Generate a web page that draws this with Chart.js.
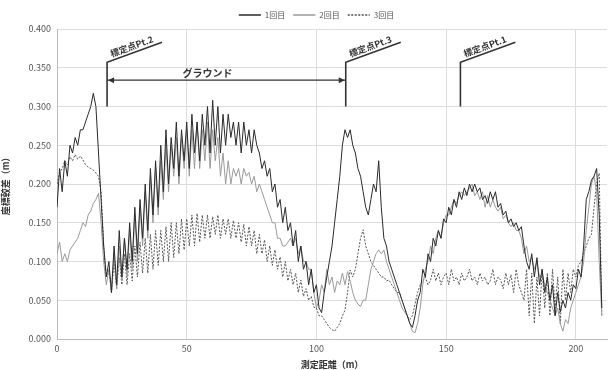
<!DOCTYPE html>
<html>
<head>
<meta charset="utf-8">
<script src="https://cdn.jsdelivr.net/npm/chart.js@4"></script>
<style>
  body { margin: 0; background: #fff; }
  #wrap { width: 609px; height: 370px; }
</style>
</head>
<body>
<div id="wrap"><canvas id="chart"></canvas></div>
<script>
// distances (m), one per metre
const distances = [];
for (let i = 0; i <= 210; i++) distances.push(i);

const run1 = [
  0.17, 0.22, 0.19, 0.23, 0.21, 0.25, 0.24, 0.26, 0.25, 0.27,
  0.27, 0.28, 0.29, 0.30, 0.317, 0.30, 0.24, 0.18, 0.12, 0.08,
  0.10, 0.06, 0.12, 0.07, 0.14, 0.08, 0.13, 0.09, 0.15, 0.10,
  0.17, 0.11, 0.18, 0.13, 0.20, 0.14, 0.22, 0.16, 0.23, 0.17,
  0.25, 0.19, 0.27, 0.20, 0.26, 0.22, 0.28, 0.21, 0.27, 0.23,
  0.28, 0.22, 0.29, 0.24, 0.28, 0.23, 0.29, 0.25, 0.30, 0.24,
  0.308, 0.25, 0.30, 0.24, 0.29, 0.25, 0.29, 0.26, 0.28, 0.25,
  0.28, 0.24, 0.28, 0.25, 0.27, 0.24, 0.27, 0.25, 0.24, 0.22,
  0.23, 0.21, 0.22, 0.19, 0.20, 0.17, 0.18, 0.15, 0.17, 0.14,
  0.15, 0.12, 0.14, 0.10, 0.12, 0.09, 0.10, 0.07, 0.09, 0.06,
  0.07, 0.04, 0.034, 0.06, 0.08, 0.10, 0.12, 0.15, 0.18, 0.21,
  0.25, 0.27, 0.26, 0.27, 0.25, 0.24, 0.22, 0.21, 0.19, 0.17,
  0.16, 0.18, 0.20, 0.19, 0.23, 0.17, 0.13, 0.12, 0.10, 0.09,
  0.08, 0.07, 0.06, 0.05, 0.04, 0.03, 0.02, 0.015, 0.03, 0.05,
  0.06, 0.09, 0.08, 0.11, 0.10, 0.13, 0.12, 0.14, 0.13, 0.155,
  0.15, 0.17, 0.16, 0.18, 0.17, 0.19, 0.18, 0.195, 0.185, 0.20,
  0.19, 0.20, 0.19, 0.195, 0.18, 0.185, 0.175, 0.19, 0.18, 0.19,
  0.17, 0.175, 0.16, 0.165, 0.15, 0.155, 0.145, 0.15, 0.14, 0.145,
  0.12, 0.10, 0.09, 0.11, 0.08, 0.105, 0.07, 0.09, 0.06, 0.08,
  0.05, 0.07, 0.03, 0.06, 0.035, 0.05, 0.04, 0.06, 0.05, 0.07,
  0.065, 0.09, 0.08, 0.12, 0.18, 0.19, 0.205, 0.21, 0.22, 0.16, 0.04
];

const run2 = [
  0.11, 0.125, 0.10, 0.11, 0.10, 0.115, 0.12, 0.125, 0.13, 0.14,
  0.15, 0.145, 0.16, 0.165, 0.175, 0.18, 0.188, 0.15, 0.10, 0.07,
  0.09, 0.06, 0.11, 0.065, 0.12, 0.075, 0.13, 0.08, 0.14, 0.09,
  0.16, 0.10, 0.17, 0.12, 0.19, 0.13, 0.21, 0.15, 0.22, 0.16,
  0.23, 0.18, 0.25, 0.19, 0.25, 0.21, 0.26, 0.20, 0.26, 0.22,
  0.27, 0.21, 0.27, 0.22, 0.28, 0.22, 0.27, 0.23, 0.28, 0.22,
  0.27, 0.23, 0.26, 0.21, 0.24, 0.20, 0.23, 0.20, 0.22, 0.21,
  0.22, 0.20, 0.22, 0.21, 0.215, 0.20, 0.21, 0.19, 0.20, 0.19,
  0.18, 0.17, 0.16, 0.15, 0.15, 0.13, 0.13, 0.12, 0.12, 0.125,
  0.13, 0.12, 0.13, 0.11, 0.12, 0.10, 0.10, 0.09, 0.09, 0.06,
  0.04, 0.05, 0.07, 0.06, 0.09, 0.07, 0.08, 0.06, 0.075, 0.07,
  0.085, 0.07, 0.087, 0.075, 0.06, 0.05, 0.045, 0.042, 0.05, 0.05,
  0.07, 0.09, 0.10, 0.11, 0.115, 0.11, 0.115, 0.10, 0.09, 0.08,
  0.07, 0.06, 0.05, 0.04, 0.035, 0.03, 0.02, 0.01, 0.008, 0.02,
  0.04, 0.07, 0.09, 0.10, 0.12, 0.11, 0.13, 0.14, 0.13, 0.15,
  0.16, 0.16, 0.17, 0.18, 0.175, 0.185, 0.19, 0.185, 0.19, 0.195,
  0.20, 0.185, 0.19, 0.18, 0.19, 0.17, 0.185, 0.17, 0.18, 0.17,
  0.165, 0.17, 0.155, 0.16, 0.15, 0.145, 0.15, 0.14, 0.14, 0.13,
  0.11, 0.12, 0.10, 0.105, 0.09, 0.10, 0.08, 0.085, 0.07, 0.06,
  0.05, 0.04, 0.03, 0.04, 0.02, 0.01, 0.025, 0.02, 0.04, 0.05,
  0.06, 0.07, 0.08, 0.10, 0.14, 0.17, 0.20, 0.21, 0.19, 0.10, 0.03
];

const run3 = [
  0.20, 0.214, 0.22, 0.23, 0.225, 0.235, 0.23, 0.238, 0.232, 0.236,
  0.231, 0.225, 0.222, 0.22, 0.218, 0.214, 0.21, 0.19, 0.12, 0.08,
  0.09, 0.06, 0.10, 0.065, 0.105, 0.07, 0.11, 0.07, 0.11, 0.075,
  0.12, 0.08, 0.125, 0.085, 0.13, 0.085, 0.135, 0.09, 0.14, 0.095,
  0.14, 0.10, 0.145, 0.10, 0.15, 0.105, 0.15, 0.11, 0.155, 0.115,
  0.155, 0.12, 0.16, 0.12, 0.162, 0.125, 0.16, 0.13, 0.16, 0.13,
  0.158, 0.135, 0.16, 0.13, 0.155, 0.135, 0.155, 0.13, 0.153, 0.13,
  0.15, 0.125, 0.148, 0.12, 0.145, 0.12, 0.14, 0.11, 0.135, 0.11,
  0.128, 0.10, 0.12, 0.095, 0.115, 0.09, 0.106, 0.08, 0.10, 0.075,
  0.09, 0.07, 0.085, 0.06, 0.076, 0.055, 0.065, 0.05, 0.055, 0.041,
  0.04, 0.03, 0.03, 0.025, 0.02, 0.015, 0.012, 0.01, 0.015, 0.02,
  0.03, 0.037, 0.06, 0.089, 0.08, 0.09, 0.11, 0.13, 0.141, 0.12,
  0.11, 0.10, 0.095, 0.09, 0.085, 0.08, 0.08, 0.075, 0.076, 0.07,
  0.065, 0.06, 0.06, 0.05, 0.04, 0.03, 0.025, 0.03, 0.045, 0.06,
  0.07, 0.075, 0.08, 0.07, 0.076, 0.09, 0.075, 0.085, 0.07, 0.08,
  0.085, 0.07, 0.09, 0.075, 0.08, 0.07, 0.085, 0.075, 0.08, 0.09,
  0.075, 0.08, 0.07, 0.085, 0.075, 0.08, 0.07, 0.075, 0.09, 0.07,
  0.08, 0.076, 0.065, 0.085, 0.07, 0.083, 0.06, 0.09, 0.07, 0.06,
  0.05, 0.09, 0.03, 0.085, 0.02, 0.08, 0.03, 0.09, 0.04, 0.085,
  0.03, 0.09, 0.04, 0.08, 0.02, 0.09, 0.05, 0.085, 0.06, 0.09,
  0.08, 0.095, 0.10, 0.11, 0.12, 0.13, 0.135, 0.17, 0.20, 0.214, 0.03
];

const seriesNames = ['1回目', '2回目', '3回目'];
const xTicks = [0, 50, 100, 150, 200];
const yTicks = [0, 0.05, 0.1, 0.15, 0.2, 0.25, 0.3, 0.35, 0.4];

// survey marker annotations
const markerNames = ['標定点Pt.2', '標定点Pt.3', '標定点Pt.1'];
const markerX = [19.3, 111.3, 155.5];
const markerLow = 0.300, markerHigh = 0.357, markerSlantTop = 0.383;
const groundLabel = 'グラウンド';
const groundY = 0.334;
const groundLabelX = 58;

const jpFont = '"Noto Sans CJK JP", "Noto Sans", sans-serif';

const toPoints = arr => arr.map((v, i) => ({ x: distances[i], y: v }));

// legend sits a little right of centre in the original
const legendShift = {
  id: 'legendShift',
  afterLayout(chart) {
    chart.legend.left += 13;
    chart.legend.right += 13;
  }
};

const annotations = {
  id: 'annotations',
  afterDatasetsDraw(chart) {
    const ctx = chart.ctx;
    const xs = chart.scales.x, ys = chart.scales.y;
    ctx.save();
    ctx.strokeStyle = '#333';
    ctx.fillStyle = '#333';
    ctx.lineWidth = 1.6;
    const yLow = ys.getPixelForValue(markerLow);
    const yHigh = ys.getPixelForValue(markerHigh);
    const ySlant = ys.getPixelForValue(markerSlantTop);
    markerX.forEach((mx, i) => {
      const px = xs.getPixelForValue(mx);
      ctx.beginPath();
      ctx.moveTo(px, yLow);
      ctx.lineTo(px, yHigh);
      ctx.lineTo(px + 55, ySlant);
      ctx.stroke();
      const ang = Math.atan2(ySlant - yHigh, 55);
      ctx.save();
      ctx.translate(px + 5, yHigh - 4);
      ctx.rotate(ang);
      ctx.font = 'bold 9px ' + jpFont;
      ctx.textAlign = 'left';
      ctx.textBaseline = 'bottom';
      ctx.fillText(markerNames[i], 0, 0);
      ctx.restore();
    });
    // ground arrow between Pt.2 and Pt.3
    const x1 = xs.getPixelForValue(markerX[0]);
    const x2 = xs.getPixelForValue(markerX[1]);
    const ay = ys.getPixelForValue(groundY);
    ctx.lineWidth = 1.2;
    ctx.beginPath();
    ctx.moveTo(x1, ay);
    ctx.lineTo(x2, ay);
    ctx.stroke();
    [[x1, 1], [x2, -1]].forEach(([ax, d]) => {
      ctx.beginPath();
      ctx.moveTo(ax + d, ay);
      ctx.lineTo(ax + d * 7, ay - 3);
      ctx.lineTo(ax + d * 7, ay + 3);
      ctx.closePath();
      ctx.fill();
    });
    ctx.font = 'bold 10px ' + jpFont;
    ctx.textAlign = 'center';
    ctx.textBaseline = 'bottom';
    ctx.fillText(groundLabel, xs.getPixelForValue(groundLabelX), ay - 2);
    ctx.restore();
  }
};

new Chart(document.getElementById('chart'), {
  type: 'line',
  data: {
    datasets: [
      { label: seriesNames[0], data: toPoints(run1), borderColor: '#2a2a2a', backgroundColor: 'transparent', borderWidth: 1 },
      { label: seriesNames[1], data: toPoints(run2), borderColor: '#9a9a9a', backgroundColor: 'transparent', borderWidth: 1 },
      { label: seriesNames[2], data: toPoints(run3), borderColor: '#555', backgroundColor: 'transparent', borderWidth: 1, borderDash: [2, 1.5] }
    ]
  },
  options: {
    responsive: true,
    maintainAspectRatio: false,
    animation: false,
    elements: { point: { radius: 0 }, line: { tension: 0 } },
    layout: { padding: { right: 2, top: 3 } },
    plugins: {
      legend: {
        position: 'top',
        labels: {
          boxWidth: 22,
          boxHeight: 0.001,
          padding: 8,
          color: '#555',
          font: { family: jpFont, size: 8 }
        }
      },
      tooltip: { enabled: false }
    },
    scales: {
      x: {
        type: 'linear',
        min: 0,
        max: 212,
        afterBuildTicks(scale) { scale.ticks = xTicks.map(v => ({ value: v })); },
        ticks: { color: '#555', font: { family: jpFont, size: 9 }, padding: 4 },
        grid: { color: '#dcdcdc', drawTicks: false },
        border: { color: '#bbb' },
        title: { display: true, text: '測定距離（m）', color: '#333', font: { family: jpFont, size: 9, weight: 'bold' }, padding: 0 },
        afterFit(scale) { scale.height = 31; }
      },
      y: {
        min: 0,
        max: 0.4,
        afterBuildTicks(scale) { scale.ticks = yTicks.map(v => ({ value: v })); },
        ticks: {
          color: '#555',
          font: { family: jpFont, size: 9 },
          padding: 6,
          callback: v => Number(v).toFixed(3)
        },
        grid: { color: '#dcdcdc', drawTicks: false },
        border: { color: '#bbb' },
        title: { display: true, text: '座標較差（m）', color: '#333', font: { family: jpFont, size: 9, weight: 'bold' }, padding: 0 },
        afterFit(scale) { scale.width = 57; }
      }
    }
  },
  plugins: [annotations, legendShift]
});
</script>
</body>
</html>
